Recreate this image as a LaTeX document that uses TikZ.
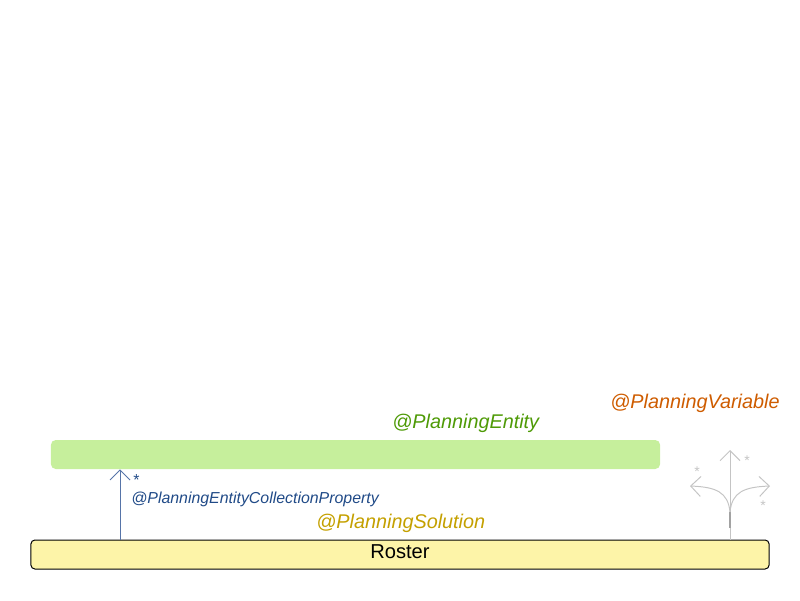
\documentclass[tikz,border=0pt]{standalone}
\usepackage{fontspec}
\setmainfont{Liberation Sans}
\usetikzlibrary{arrows.meta}

\definecolor{entitygreen}{HTML}{4E9A06}
\definecolor{entityfill}{HTML}{C6EF9C}
\definecolor{variableorange}{HTML}{CE5C00}
\definecolor{solutiongold}{HTML}{C4A000}
\definecolor{rosterfill}{HTML}{FDF4A8}
\definecolor{propertyblue}{HTML}{204A87}
\definecolor{arrowblue}{HTML}{5674A8}
\definecolor{iconlight}{HTML}{C4C4C4}
\definecolor{icondark}{HTML}{A2A2A2}

\tikzset{
  annotation/.style={anchor=base west, inner sep=0pt, font=\fontsize{14.1}{16}\selectfont\itshape},
  openhead/.style={-{Straight Barb[length=0.25cm, width=0.5cm]}},
  iconstar/.style={anchor=base, inner sep=0pt, text=iconlight, font=\fontsize{10}{12}\selectfont}
}

\begin{document}
\begin{tikzpicture}[x=0.025cm, y=-0.025cm]
  \useasboundingbox (0,0) rectangle (800,600);

  % Draw the boxes
  \node[fill=entityfill, rounded corners=0.12cm, minimum width=15.225cm, minimum height=0.725cm, inner sep=0pt] (entity) at (355.5,454.5) {};
  \node[draw=black, line width=0.7pt, fill=rosterfill, rounded corners=0.1cm, minimum width=18.45cm, minimum height=0.725cm, inner sep=0pt, text height=10.2pt, text depth=5pt, font=\fontsize{14.3}{16}\selectfont] (roster) at (400,554.5) {Roster};

  % Draw the collection property arrow
  \coordinate (collbottom) at (roster.north -| 120,0);
  \coordinate (colltop) at (entity.south -| 120,0);
  \draw[openhead, arrowblue, line width=0.7pt] (collbottom) -- (colltop);
  \node[anchor=base west, inner sep=0pt, text=propertyblue, font=\fontsize{11.3}{13}\selectfont] (collstar) at (133,485) {*};
  \node[anchor=base west, inner sep=0pt, text=propertyblue, font=\fontsize{11.3}{13}\selectfont\itshape] (collprop) at (131,503) {@PlanningEntityCollectionProperty};

  % Label the annotations
  \node[annotation, text=entitygreen] (entitylabel) at (392,428) {@PlanningEntity};
  \node[annotation, text=variableorange] (variablelabel) at (610,408) {@PlanningVariable};
  \node[annotation, text=solutiongold] (solutionlabel) at (316,528) {@PlanningSolution};

  % Draw the variable icon
  \coordinate (varbottom) at (roster.north -| 730,0);
  \coordinate (varfork) at (730,512);
  \draw[iconlight, line width=0.7pt] (varbottom) -- (varfork);
  \draw[icondark, line width=0.8pt] (730,528) -- (varfork);
  \draw[openhead, iconlight, line width=0.7pt] (varfork) -- (730,450);
  \draw[openhead, iconlight, line width=0.7pt] (varfork) .. controls (728,492) and (716,487) .. (690,486);
  \draw[openhead, iconlight, line width=0.7pt] (varfork) .. controls (732,492) and (744,487) .. (770,486);
  \node[iconstar] at (697,476) {*};
  \node[iconstar] at (747,465) {*};
  \node[iconstar] at (763,510) {*};
\end{tikzpicture}
\end{document}
